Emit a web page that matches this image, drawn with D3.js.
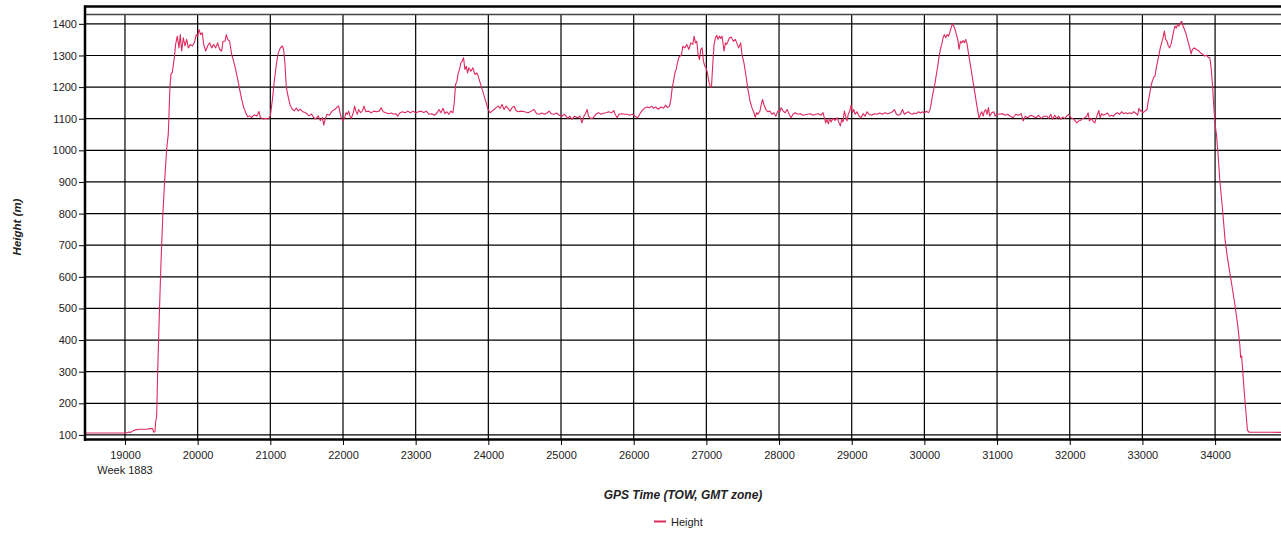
<!DOCTYPE html>
<html><head><meta charset="utf-8">
<script src="https://cdn.jsdelivr.net/npm/d3@7"></script>
<style>
html,body{margin:0;padding:0;background:#fff;}
svg{display:block;font-family:"Liberation Sans",Arial,sans-serif;}
</style></head>
<body><svg id="chart" width="1281" height="533"></svg>
<script>
// ---- data ----
const xTicks = [19000,20000,21000,22000,23000,24000,25000,26000,27000,28000,29000,30000,31000,32000,33000,34000];
const yTicks = [100,200,300,400,500,600,700,800,900,1000,1100,1200,1300,1400];
const weekLabel = "Week 1883";
const seriesName = "Height";
const xTitle = "GPS Time (TOW, GMT zone)";
const yTitle = "Height (m)";
// [GPS time of week (s), height (m)]
const heightSeries = [
[18450,106],[19014,106],[19060,109],[19080,108],[19110,113],[19140,116],[19200,118],[19300,118],[19340,120],[19380,120],[19395,109],[19413,110],[19420,137],[19436,160],[19450,300],[19470,460],[19495,640],[19520,790],[19545,900],[19573,1001],[19596,1052],[19608,1130],[19619,1200],[19633,1241],[19651,1246],[19679,1293],[19697,1335],[19720,1361],[19743,1324],[19761,1366],[19780,1314],[19803,1356],[19826,1330],[19849,1351],[19872,1324],[19899,1335],[19927,1330],[19954,1340],[19982,1366],[20000,1361],[20018,1382],[20041,1366],[20064,1372],[20083,1335],[20110,1314],[20138,1330],[20165,1340],[20193,1324],[20220,1335],[20248,1324],[20275,1340],[20303,1319],[20330,1314],[20349,1345],[20376,1345],[20394,1366],[20413,1351],[20440,1345],[20468,1303],[20495,1282],[20523,1256],[20550,1225],[20578,1193],[20605,1162],[20633,1136],[20660,1120],[20688,1106],[20716,1109],[20743,1104],[20780,1112],[20817,1109],[20844,1123],[20862,1104],[20899,1099],[20936,1101],[20972,1099],[21000,1109],[21027,1157],[21055,1220],[21083,1272],[21110,1309],[21138,1324],[21165,1330],[21183,1319],[21202,1272],[21220,1199],[21248,1167],[21275,1141],[21303,1130],[21330,1125],[21358,1134],[21385,1125],[21413,1130],[21440,1123],[21477,1120],[21505,1115],[21532,1109],[21569,1115],[21596,1104],[21624,1099],[21660,1109],[21688,1094],[21716,1104],[21735,1080],
[21758,1101],[21781,1114],[21813,1111],[21849,1124],[21886,1129],[21918,1137],[21941,1140],[21959,1119],[21977,1103],[22000,1093],[22023,1103],[22041,1119],[22059,1114],[22078,1124],[22096,1108],[22114,1101],[22142,1119],[22160,1140],[22178,1124],[22197,1114],[22215,1129],[22242,1119],[22270,1126],[22288,1140],[22315,1122],[22352,1124],[22388,1119],[22425,1124],[22462,1122],[22498,1124],[22526,1135],[22553,1122],[22590,1119],[22626,1116],[22663,1118],[22699,1114],[22727,1116],[22754,1108],[22781,1118],[22818,1122],[22855,1119],[22891,1124],[22928,1119],[22965,1124],[23000,1118],[23037,1122],[23074,1124],[23110,1120],[23147,1124],[23184,1114],[23220,1116],[23257,1111],[23293,1118],[23321,1129],[23348,1119],[23376,1133],[23403,1116],[23430,1122],[23458,1114],[23485,1124],[23513,1119],[23531,1150],[23549,1208],[23568,1219],[23586,1245],[23604,1256],[23622,1277],[23641,1282],[23659,1293],[23677,1256],[23696,1266],[23714,1245],[23732,1261],[23759,1250],[23787,1261],[23814,1240],[23842,1245],[23860,1235],[23887,1214],[23915,1193],[23942,1172],[23970,1150],[23997,1129],[24024,1119],[24052,1124],[24079,1129],[24107,1135],[24134,1140],[24162,1133],[24189,1145],[24216,1129],[24244,1140],[24271,1133],[24299,1124],[24326,1135],[24353,1140],[24381,1126],[24408,1122],[24454,1124],[24500,1122],[24545,1119],[24591,1124],[24628,1129],[24664,1116],[24701,1114],[24737,1118],[24774,1114],[24811,1119],[24838,1124],[24865,1116],[24902,1114],[24939,1118],[24975,1111],[25012,1108],[25048,1114],
[25095,1101],[25123,1108],[25150,1098],[25187,1108],[25223,1103],[25260,1108],[25287,1087],[25315,1108],[25342,1119],[25360,1129],[25378,1108],[25406,1101],[25433,1101],[25461,1108],[25488,1116],[25516,1119],[25552,1114],[25589,1118],[25625,1119],[25653,1122],[25698,1119],[25726,1126],[25744,1114],[25772,1103],[25799,1114],[25835,1116],[25872,1114],[25909,1114],[25945,1111],[25982,1114],[26018,1108],[26055,1103],[26082,1114],[26110,1124],[26146,1133],[26183,1137],[26219,1135],[26247,1140],[26274,1133],[26302,1137],[26338,1130],[26375,1137],[26411,1133],[26439,1143],[26466,1135],[26494,1140],[26512,1161],[26530,1198],[26548,1219],[26567,1245],[26585,1256],[26603,1277],[26622,1295],[26640,1298],[26658,1303],[26676,1329],[26704,1324],[26731,1335],[26759,1319],[26786,1340],[26813,1335],[26832,1361],[26850,1340],[26868,1345],[26887,1303],[26905,1287],[26923,1319],[26942,1324],[26960,1282],[26978,1266],[26996,1261],[27015,1245],[27033,1219],[27051,1203],[27070,1200],[27088,1272],[27106,1335],[27125,1356],[27143,1364],[27161,1351],[27180,1361],[27198,1354],[27216,1361],[27243,1314],[27262,1340],[27280,1335],[27298,1345],[27317,1356],[27344,1358],[27371,1345],[27399,1351],[27426,1335],[27445,1324],[27472,1340],[27490,1303],[27517,1277],[27545,1235],[27572,1193],[27600,1156],[27627,1135],[27654,1119],[27673,1105],[27691,1119],[27709,1114],[27737,1124],[27755,1145],[27773,1161],[27791,1145],[27819,1129],[27846,1122],[27874,1124],[27901,1114],[27929,1119],[27956,1108],[27983,1124],[28011,1122],[28029,1135],[28057,1124],[28084,1119],[28111,1129],[28139,1114],[28166,1103],[28193,1114],[28221,1119],[28257,1114],[28294,1116],[28330,1111],
[28394,1114],[28430,1116],[28467,1111],[28504,1114],[28541,1116],[28577,1111],[28605,1119],[28624,1103],[28642,1087],[28660,1098],[28679,1084],[28697,1101],[28715,1090],[28743,1101],[28770,1095],[28798,1103],[28826,1087],[28844,1077],[28862,1098],[28881,1090],[28899,1124],[28917,1108],[28936,1093],[28954,1116],[28972,1124],[28991,1143],[29009,1119],[29028,1129],[29046,1114],[29073,1122],[29101,1108],[29129,1103],[29156,1116],[29184,1108],[29211,1122],[29239,1114],[29275,1111],[29312,1116],[29349,1114],[29386,1118],[29422,1114],[29459,1119],[29496,1116],[29532,1119],[29560,1122],[29588,1129],[29615,1114],[29643,1111],[29670,1114],[29698,1129],[29725,1114],[29753,1119],[29780,1122],[29808,1116],[29835,1114],[29863,1118],[29890,1116],[29918,1122],[29945,1118],[29973,1122],[30000,1118],[30028,1124],[30055,1119],[30074,1126],[30092,1145],[30110,1172],[30129,1193],[30147,1214],[30165,1240],[30184,1266],[30203,1298],[30220,1319],[30239,1335],[30257,1356],[30275,1366],[30294,1356],[30312,1366],[30331,1361],[30349,1372],[30367,1387],[30386,1400],[30404,1393],[30422,1382],[30441,1366],[30459,1351],[30477,1319],[30496,1345],[30514,1340],[30532,1347],[30551,1340],[30569,1351],[30588,1335],[30606,1308],[30624,1282],[30643,1256],[30661,1229],[30679,1203],[30698,1177],[30716,1150],[30735,1124],[30753,1101],[30771,1114],[30790,1122],[30808,1108],[30826,1124],[30845,1129],[30863,1114],[30881,1135],[30900,1108],[30927,1119],[30955,1122],[30973,1108],[31000,1116],[31037,1114],[31075,1116],[31111,1111],[31148,1114],[31184,1108],[31222,1103],[31258,1114],[31295,1111],[31332,1116],[31359,1093],[31387,1108],[31424,1103],[31460,1111],[31497,1108],[31534,1103],[31570,1111],[31607,1101],[31644,1108],
[31683,1108],[31710,1101],[31738,1114],[31765,1098],[31793,1111],[31821,1101],[31848,1108],[31876,1098],[31903,1105],[31931,1101],[31959,1108],[31986,1114],[32014,1103],[32041,1101],[32069,1095],[32097,1087],[32124,1093],[32152,1095],[32179,1101],[32207,1103],[32235,1108],[32253,1119],[32271,1093],[32299,1101],[32327,1090],[32345,1087],[32373,1108],[32400,1126],[32419,1103],[32437,1116],[32465,1111],[32492,1114],[32520,1118],[32547,1108],[32575,1111],[32603,1108],[32630,1116],[32658,1119],[32685,1114],[32713,1122],[32741,1116],[32768,1119],[32796,1116],[32823,1119],[32851,1116],[32879,1122],[32906,1118],[32934,1111],[32952,1133],[32971,1124],[32989,1126],[33007,1119],[33035,1124],[33063,1129],[33081,1156],[33099,1177],[33118,1203],[33136,1219],[33154,1230],[33173,1235],[33191,1261],[33210,1282],[33228,1303],[33246,1324],[33265,1340],[33283,1356],[33302,1377],[33320,1351],[33338,1345],[33357,1330],[33375,1324],[33393,1335],[33412,1356],[33430,1377],[33449,1393],[33467,1387],[33485,1398],[33504,1393],[33522,1403],[33541,1408],[33559,1393],[33578,1382],[33596,1372],[33614,1356],[33633,1340],[33651,1324],[33670,1305],[33688,1319],[33716,1324],[33743,1319],[33771,1316],[33799,1308],[33826,1305],[33854,1298],[33882,1301],[33909,1293],[33927,1293],[33946,1261],[33964,1208],[33983,1135],[34000,1082],[34019,1050],[34040,990],[34067,900],[34100,820],[34136,720],[34170,660],[34205,610],[34240,560],[34274,510],[34315,440],[34342,380],[34352,345],[34365,350],[34375,320],[34400,240],[34425,170],[34445,115],[34466,109],[34907,108]
];

// ---- chart ----
const svg = d3.select("#chart");
const W = 1281, H = 533;
const plot = {left: 85, top: 15, bottom: 440, right: 1281};
const x = d3.scaleLinear().domain([18450, 34907]).range([plot.left, plot.right]);
const y = d3.scaleLinear().domain([84, 1428]).range([plot.bottom, plot.top]);

svg.append("rect").attr("width", W).attr("height", H).attr("fill", "#fff");

// horizontal grid
svg.append("g").selectAll("line").data(yTicks).join("line")
  .attr("x1", plot.left).attr("x2", plot.right)
  .attr("y1", d => y(d)).attr("y2", d => y(d))
  .attr("stroke", "#000").attr("stroke-width", 1.2);

// vertical grid
svg.append("g").selectAll("line").data(xTicks).join("line")
  .attr("x1", d => x(d)).attr("x2", d => x(d))
  .attr("y1", plot.top).attr("y2", plot.bottom)
  .attr("stroke", "#000").attr("stroke-width", 1.2);

// series line
const line = d3.line().x(d => x(d[0])).y(d => y(d[1]));
svg.append("path").datum(heightSeries)
  .attr("d", line).attr("fill", "none")
  .attr("stroke", "#dc2a5e").attr("stroke-width", 1.1)
  .attr("stroke-linejoin", "round");

// frame
svg.append("line").attr("x1", plot.left - 1).attr("x2", W).attr("y1", 6.5).attr("y2", 6.5)
  .attr("stroke", "#000").attr("stroke-width", 2.5);
svg.append("line").attr("x1", plot.left - 1).attr("x2", W).attr("y1", plot.top - 0.5).attr("y2", plot.top - 0.5)
  .attr("stroke", "#444").attr("stroke-width", 1.6);
svg.append("line").attr("x1", plot.left).attr("x2", plot.left).attr("y1", 5.5).attr("y2", plot.bottom + 1)
  .attr("stroke", "#000").attr("stroke-width", 2.5);
svg.append("line").attr("x1", plot.left - 1).attr("x2", W).attr("y1", plot.bottom - 0.5).attr("y2", plot.bottom - 0.5)
  .attr("stroke", "#000").attr("stroke-width", 2.5);

// axes
const xAxis = svg.append("g").attr("transform", `translate(0,${plot.bottom})`)
  .call(d3.axisBottom(x).tickValues(xTicks).tickSize(5).tickPadding(6).tickFormat(d3.format("d")));
xAxis.select(".domain").remove();
xAxis.selectAll("line").attr("stroke", "#000");
xAxis.selectAll("text").attr("font-size", 11).attr("fill", "#222").style("font-family", '"Liberation Sans",Arial,sans-serif');

const yAxis = svg.append("g").attr("transform", `translate(${plot.left},0)`)
  .call(d3.axisLeft(y).tickValues(yTicks).tickSize(6).tickPadding(2).tickFormat(d3.format("d")));
yAxis.select(".domain").remove();
yAxis.selectAll("line").attr("stroke", "#000");
yAxis.selectAll("text").attr("font-size", 11).attr("fill", "#222").style("font-family", '"Liberation Sans",Arial,sans-serif');

svg.append("text").attr("x", x(xTicks[0])).attr("y", 474)
  .attr("text-anchor", "middle").attr("font-size", 11).attr("fill", "#222").text(weekLabel);

// titles
svg.append("text").attr("x", 683).attr("y", 499)
  .attr("text-anchor", "middle").attr("font-size", 12).attr("font-weight", "bold").attr("font-style", "italic")
  .attr("fill", "#222").text(xTitle);
svg.append("text").attr("transform", "translate(21,227) rotate(-90)")
  .attr("text-anchor", "middle").attr("font-size", 11.5).attr("font-weight", "bold").attr("font-style", "italic")
  .attr("fill", "#222").text(yTitle);

// legend
svg.append("line").attr("x1", 654).attr("x2", 666).attr("y1", 521.5).attr("y2", 521.5)
  .attr("stroke", "#dc2a5e").attr("stroke-width", 2);
svg.append("text").attr("x", 671).attr("y", 525.5).attr("font-size", 11).attr("fill", "#222").text(seriesName);
</script></body></html>
